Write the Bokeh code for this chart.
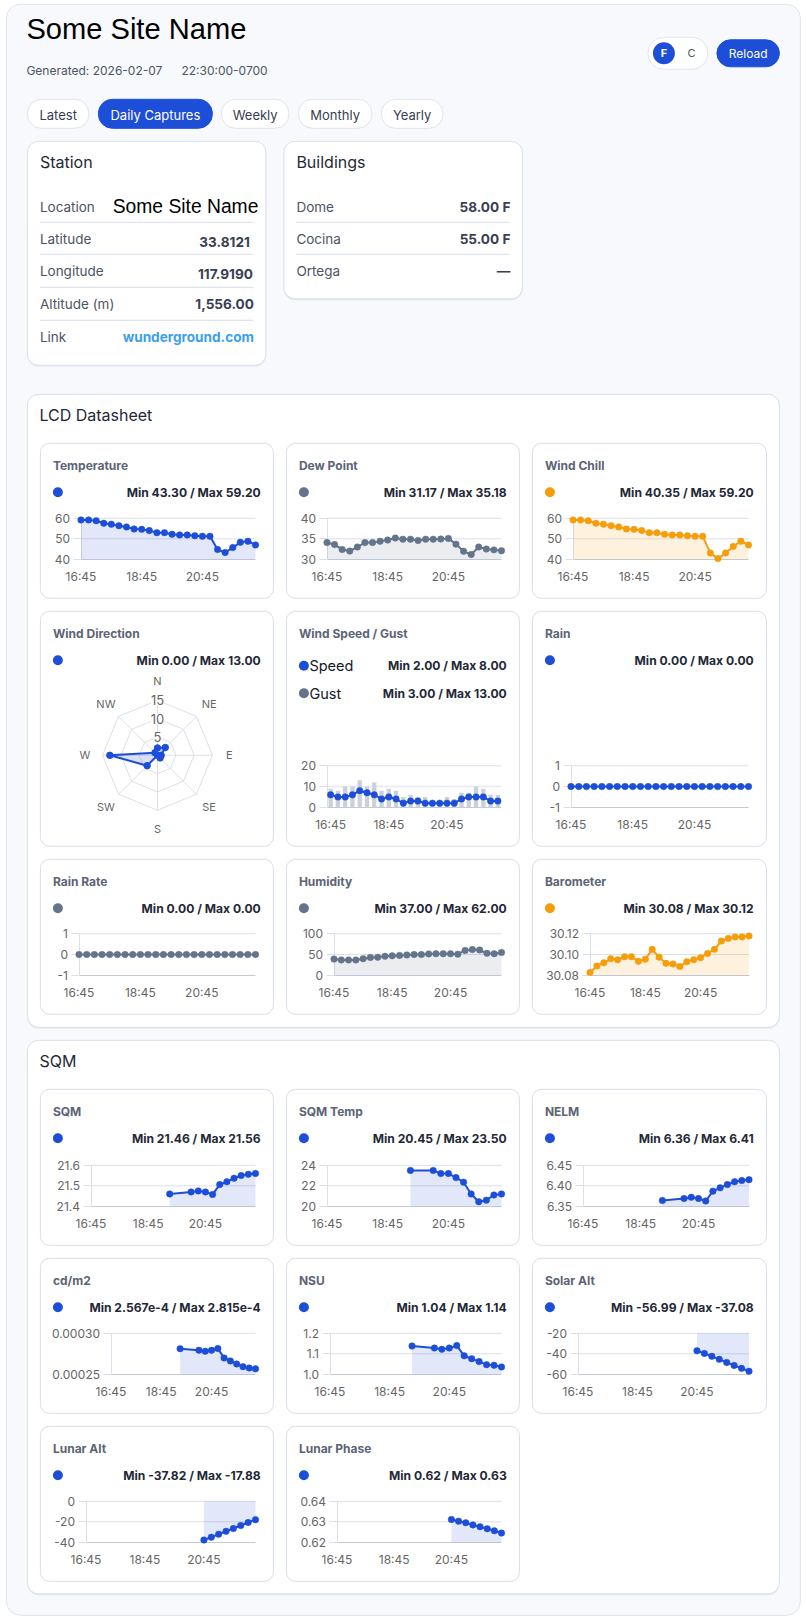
import math
from bokeh.core.properties import value
from bokeh.embed import file_html
from bokeh.resources import INLINE
from bokeh.plotting import figure
from bokeh.models import Column, LinearAxis, FixedTicker, Range1d

# ---------- data ----------
site_name = "Some Site Name"
generated = "Generated: 2026-02-07    22:30:00-0700"
tab_labels = ["Latest", "Daily Captures", "Weekly", "Monthly", "Yearly"]
station_labels = ["Location", "Latitude", "Longitude", "Altitude (m)", "Link"]
station_values = ["Some Site Name", "33.8121", "117.9190", "1,556.00", "wunderground.com"]
building_labels = ["Dome", "Cocina", "Ortega"]
building_values = ["58.00 F", "55.00 F", "—"]

times = ["16:45", "17:00", "17:15", "17:30", "17:45", "18:00", "18:15", "18:30",
         "18:45", "19:00", "19:15", "19:30", "19:45", "20:00", "20:15", "20:30",
         "20:45", "21:00", "21:15", "21:30", "21:45", "22:00", "22:15", "22:30"]
tick_index = [0, 8, 16]

temperature = [59.2, 59.2, 58.8, 57.6, 57.1, 56.4, 55.8, 54.8, 54.6, 54.0, 53.0, 53.0,
               52.2, 51.9, 51.9, 51.5, 51.2, 51.2, 44.8, 43.3, 45.7, 48.3, 48.8, 47.0]
dew_point = [34.07, 33.6, 32.4, 32.0, 33.0, 34.07, 34.07, 34.4, 34.7, 35.18, 34.9, 34.9,
             34.6, 34.9, 34.9, 34.95, 35.1, 33.7, 31.95, 31.17, 33.0, 32.5, 32.3, 32.1]
wind_chill = [59.2, 59.2, 58.8, 57.6, 57.1, 56.4, 55.8, 54.8, 54.6, 54.0, 53.0, 53.0,
              52.2, 51.9, 51.9, 51.5, 51.2, 51.2, 43.1, 40.35, 43.1, 46.3, 48.8, 47.0]
wind_speed = [6, 5, 5, 6, 8, 7, 6, 4, 5, 4, 2, 3, 3, 2, 2, 2, 2, 2, 4, 5, 5, 5, 3, 3]
wind_gust = [9, 8, 10, 10, 13, 10, 12, 8, 9, 8, 5, 6, 5, 5, 3, 3, 5, 4, 7, 7, 10, 9, 6, 6]
rain = [0] * len(times)
rain_rate = [0] * len(times)
humidity = [39, 37, 37, 37, 40, 43, 43.5, 46, 47, 48, 49, 50, 50, 51.5, 52, 52, 52, 51,
            60, 62, 61, 53, 52, 55]
barometer = [30.0826, 30.089, 30.092, 30.096, 30.095, 30.098, 30.098, 30.0935, 30.0955,
             30.105, 30.0975, 30.0915, 30.091, 30.0885, 30.093, 30.095, 30.097, 30.101,
             30.105, 30.113, 30.1155, 30.117, 30.117, 30.118]

compass = ["N", "NE", "E", "SE", "S", "SW", "W", "NW"]
wind_direction = [2, 3, 1, 1, 0, 4, 13, 1]
radar_ticks = [5, 10, 15]

sqm_index = [11, 14, 15, 16, 17, 18, 19, 20, 21, 22, 23]
sqm = [21.46, 21.47, 21.475, 21.47, 21.458, 21.506, 21.52, 21.537, 21.55, 21.556, 21.56]
sqm_temp = [23.5, 23.5, 23.2, 23.2, 22.8, 22.35, 21.2, 20.45, 20.6, 21.1, 21.2]
nelm = [6.364, 6.369, 6.372, 6.369, 6.363, 6.387, 6.395, 6.403, 6.41, 6.413, 6.415]
cdm2 = [2.812e-4, 2.793e-4, 2.78e-4, 2.793e-4, 2.815e-4, 2.70e-4, 2.663e-4, 2.626e-4,
        2.593e-4, 2.577e-4, 2.567e-4]
nsu = [1.138, 1.128, 1.122, 1.128, 1.14, 1.09, 1.076, 1.062, 1.047, 1.044, 1.036]
astro_index = [16, 17, 18, 19, 20, 21, 22, 23]
solar_alt = [-37.08, -39.6, -42.5, -45.4, -48.4, -51.3, -54.2, -56.99]
lunar_alt = [-37.82, -35.0, -32.1, -29.3, -26.5, -23.6, -20.7, -17.88]
lunar_phase = [0.6311, 0.6303, 0.6295, 0.6285, 0.6276, 0.6266, 0.6256, 0.6245]

all_index = list(range(len(times)))

# ---------- style ----------
BLUE, SLATE, AMBER = "#1d4ed8", "#64748b", "#f59e0b"
INK, LABEL, TICK = "#1f2937", "#4b5563", "#666666"
GRID, AXIS = "#dcdfe8", "#c4c9d6"
CHART_DY = -0.7

bg = figure(width=806, height=1620, x_range=Range1d(0.6, 806.6), y_range=Range1d(1620.7, 0.7),
            x_axis_type=None, y_axis_type=None, toolbar_location=None, output_backend="svg",
            min_border=0, outline_line_color=None, background_fill_color="white",
            border_fill_color="white",
            styles={"position": "absolute", "left": "0px", "top": "0px"})


def box(x0, y0, x1, y1, fill="white", line="#d9dee8", r=10, shadow=False):
    r = int(round(r))
    if shadow:
        bg.quad(left=[x0], right=[x1], top=[y0 + 1.5], bottom=[y1 + 1.5], fill_color="#e7eaf1",
                line_color=None, border_radius=r)
    bg.quad(left=[x0], right=[x1], top=[y0], bottom=[y1], fill_color=fill,
            line_color=line, line_width=1, border_radius=r)


def label(x, y, t, size=12, color=INK, align="left", bold=False, font="Inter"):
    bg.text(x=[x], y=[y], text=[t], text_font=value(font), text_font_size=f"{size}px",
            text_color=color, text_align=align, text_baseline="middle",
            text_font_style="bold" if bold else "normal")


def dot(x, y, color, size=10):
    bg.scatter(x=[x], y=[y], size=size, fill_color=color, line_color=None)


# page panels
box(6.5, 4.5, 800.5, 1615.5, fill="#f7f9fd", line="#dfe3ec", r=14)
label(26.5, 29.5, site_name, 29.1, "#000000", font="Liberation Sans")
label(26.5, 70.5, generated.split("    ")[0], 12, LABEL)
label(181.5, 70.5, generated.split("    ")[1], 12, LABEL)

box(648, 37.5, 708, 69.5, r=16, fill="white", line="#e2e5ee")
dot(664, 53.5, BLUE, 22)
label(664, 53.5, "F", 11, "white", "center", True)
label(691.5, 53.5, "C", 11, LABEL, "center")
box(717, 40, 779.5, 67, fill=BLUE, line=BLUE, r=13.5)
label(748.2, 53.5, "Reload", 12, "white", "center")

tab_x = [(27.5, 89), (98.5, 212.5), (221.5, 289), (298.5, 372), (381.5, 443)]
for i, (lab, (a, b)) in enumerate(zip(tab_labels, tab_x)):
    active = i == 1
    box(a, 99.5, b, 128.5, fill=BLUE if active else "white", line=BLUE if active else "#dfe3ec", r=14.5)
    label((a + b) / 2, 114.7, lab, 13, "white" if active else "#374151", "center")

# station / buildings
box(27.5, 141.5, 266, 365.5, r=11, shadow=True)
box(284, 141.5, 522.5, 299, r=11, shadow=True)
label(40, 162.5, "Station", 16, INK)
label(296.5, 162.5, "Buildings", 16, INK)
label_y = [206.7, 239.3, 271.3, 304, 337]
value_y = [206.7, 241.7, 273.7, 304, 337]
value_x = [258.5, 250, 253, 254, 254]
rule_y = [222.5, 254.5, 287.5, 320.5]
for y in rule_y:
    bg.segment(x0=[40], y0=[y], x1=[253.5], y1=[y], line_color="#d9dde6", line_width=1)
for i, (a, v) in enumerate(zip(station_labels, station_values)):
    label(40, label_y[i], a, 13.5, "#4b5563")
    if i == 0:
        label(value_x[i], value_y[i], v, 19.3, "#000000", "right", font="Liberation Sans")
    elif i == 4:
        label(value_x[i], value_y[i], v, 13.6, "#3b9fee", "right", True)
    else:
        label(value_x[i], value_y[i], v, 13.6, "#374151", "right", True)
for y in rule_y[:2]:
    bg.segment(x0=[296.5], y0=[y], x1=[510], y1=[y], line_color="#d9dde6", line_width=1)
for i, (a, v) in enumerate(zip(building_labels, building_values)):
    label(296.5, label_y[i], a, 13.5, "#4b5563")
    label(510.5, label_y[i], v, 13.6, "#374151", "right", True)

# section panels
box(27.5, 394.5, 779.5, 1027.5, r=11, shadow=True)
box(27.5, 1040.5, 779.5, 1594, r=11, shadow=True)
label(39.5, 415.5, "LCD Datasheet", 16, INK)
label(39.5, 1061, "SQM", 16, INK)

figs = [bg]
COLS = [(40.5, 273.5), (286.5, 519.5), (532.5, 766.5)]


def card(col, top, bottom, title, color, stat, stat_y=None):
    a, b = COLS[col]
    box(a, top, b, bottom, r=9)
    label(a + 12.5, top + 22.5, title, 12, "#5b6475", bold=True)
    y = top + 49 if stat_y is None else stat_y
    dot(a + 17.5, y, color)
    label(b - 12.7, y, stat, 12.1, INK, "right", True)


def chart(col, card_top, plot_left, plot_right, plot_top, plot_bottom, x_span, ymin, ymax,
          yticks, yticklabels, series, grid=GRID, fill=True, base=None, bars=None):
    """series: (index, values, colour)"""
    plot_top += CHART_DY
    plot_bottom += CHART_DY
    a, b = COLS[col]
    fx0, fx1 = int(a) + 1, int(b) - 1
    fy0, fy1 = int(plot_top) - 12, int(plot_bottom) + 32
    W, H = fx1 - fx0, fy1 - fy0
    ux = (plot_right - plot_left) / (x_span[1] - x_span[0])
    uy = (plot_bottom - plot_top) / (ymax - ymin)
    xr = Range1d(x_span[0] - (plot_left - fx0) / ux, x_span[0] - (plot_left - fx0) / ux + W / ux)
    yr = Range1d(ymin - (fy1 - plot_bottom) / uy, ymin - (fy1 - plot_bottom) / uy + H / uy)
    p = figure(width=W, height=H, x_range=xr, y_range=yr, x_axis_type=None, y_axis_type=None,
               toolbar_location=None, output_backend="svg", min_border=0, outline_line_color=None,
               background_fill_alpha=0, border_fill_alpha=0,
               styles={"position": "absolute", "left": f"{fx0}px", "top": f"{fy0}px"})
    top_ticks = [t for t in yticks if t != ymin]
    p.segment(x0=[x_span[0]] * len(top_ticks), x1=[x_span[1]] * len(top_ticks), y0=top_ticks, y1=top_ticks,
              line_color=grid, line_width=1.5 if bars else 1, level="underlay")
    yax = LinearAxis(fixed_location=x_span[0], ticker=FixedTicker(ticks=yticks),
                     major_label_overrides=dict(zip(yticks, yticklabels)), bounds=(ymin, ymax),
                     level="underlay")
    yax.axis_line_color = GRID
    yax.major_tick_line_color = GRID
    yax.major_tick_in = 0
    yax.major_tick_out = 8
    yax.minor_tick_line_color = None
    yax.major_label_standoff = 3
    yax.major_label_text_font = "Inter"
    yax.major_label_text_font_size = "12px"
    yax.major_label_text_color = TICK
    xax = LinearAxis(fixed_location=ymin, ticker=FixedTicker(ticks=tick_index),
                     major_label_overrides={i: times[i] for i in tick_index}, bounds=x_span,
                     level="underlay")
    xax.axis_line_color = AXIS
    xax.major_tick_line_color = None
    xax.minor_tick_line_color = None
    xax.major_tick_in = 0
    xax.major_tick_out = 0
    xax.major_label_standoff = 10
    xax.major_label_text_font = "Inter"
    xax.major_label_text_font_size = "12px"
    xax.major_label_text_color = TICK
    p.add_layout(yax, "left")
    p.add_layout(xax, "below")
    if bars is not None:
        p.vbar(x=all_index, top=bars, bottom=0, width=0.6, fill_color="#cbd1dc", line_color=None)
    for idx, vals, color in series:
        if fill:
            b0 = base if base is not None else (ymin if ymin > 0 else (ymax if ymax < 0 else 0))
            p.varea(x=idx, y1=vals, y2=[b0] * len(idx), fill_color=color, fill_alpha=0.13)
        p.line(x=idx, y=vals, line_color=color, line_width=2)
        p.scatter(x=idx, y=vals, size=6.5, fill_color=color, line_color=color, line_width=0.5)
    figs.append(p)
    return p


def radar(col, cx, cy, unit):
    a, b = COLS[col]
    fx0, fx1 = int(a) + 1, int(b) - 1
    fy0, fy1 = 672, 840
    W, H = fx1 - fx0, fy1 - fy0
    xr = Range1d((fx0 - cx) / unit, (fx1 - cx) / unit)
    yr = Range1d((cy - fy1) / unit, (cy - fy0) / unit)
    p = figure(width=W, height=H, x_range=xr, y_range=yr, x_axis_type=None, y_axis_type=None,
               toolbar_location=None, output_backend="svg", min_border=0, outline_line_color=None,
               background_fill_alpha=0, border_fill_alpha=0,
               styles={"position": "absolute", "left": f"{fx0}px", "top": f"{fy0}px"})
    n = len(compass)
    th = [2 * math.pi * i / n for i in range(n)]
    sx, sy = [math.sin(t) for t in th], [math.cos(t) for t in th]
    for r in radar_ticks:
        p.line(x=[r * s for s in sx] + [0], y=[r * c for c in sy] + [r], line_color=GRID, line_width=1)
    R = max(radar_ticks)
    p.segment(x0=[0] * n, y0=[0] * n, x1=[R * s for s in sx], y1=[R * c for c in sy], line_color=GRID, line_width=1)
    # closed polygon of readings
    vx = [v * s for v, s in zip(wind_direction, sx)]
    vy = [v * c for v, c in zip(wind_direction, sy)]
    p.patch(x=vx + vx[:1], y=vy + vy[:1], fill_color=BLUE, fill_alpha=0.17, line_color=BLUE, line_width=2)
    p.scatter(x=vx, y=vy, size=6.5, fill_color=BLUE, line_color=BLUE)
    p.text(x=[0] * 3, y=radar_ticks, text=[str(t) for t in radar_ticks], text_font=value("Inter"),
           text_font_size="13px", text_color=TICK, text_align="center", text_baseline="middle",
           background_fill_color="white")
    lab_r = [20.2, 19.9, 19.6, 19.9, 20.0, 19.9, 19.8, 19.9]
    p.text(x=[r * s for r, s in zip(lab_r, sx)], y=[r * c for r, c in zip(lab_r, sy)], text=compass,
           text_font=value("Inter"), text_font_size="11px", text_color=TICK, text_align="center", text_baseline="middle")
    figs.append(p)


# ---------- row 1 ----------
ROW = [(443.5, 598.5), (611.5, 846.5), (859.5, 1014.5), (1089.5, 1245.5), (1258.5, 1413.5), (1426.5, 1581.5)]
XS = (0, 23)
t0, b0 = ROW[0]
card(0, t0, b0, "Temperature", BLUE, "Min 43.30 / Max 59.20")
card(1, t0, b0, "Dew Point", SLATE, "Min 31.17 / Max 35.18")
card(2, t0, b0, "Wind Chill", AMBER, "Min 40.35 / Max 59.20")
chart(0, t0, 80.5, 255, 518.5, 559.5, XS, 40, 60, [40, 50, 60], ["40", "50", "60"], [(all_index, temperature, BLUE)])
chart(1, t0, 326.5, 501, 518.5, 559.5, XS, 30, 40, [30, 35, 40], ["30", "35", "40"], [(all_index, dew_point, SLATE)])
chart(2, t0, 572.5, 748, 518.5, 559.5, XS, 40, 60, [40, 50, 60], ["40", "50", "60"], [(all_index, wind_chill, AMBER)])

# ---------- row 2 ----------
t0, b0 = ROW[1]
card(0, t0, b0, "Wind Direction", BLUE, "Min 0.00 / Max 13.00")
radar(0, 157, 754.8, 55 / 15)

a, b = COLS[1]
box(a, t0, b, b0, r=9)
label(a + 12.5, t0 + 22.5, "Wind Speed / Gust", 12, "#5b6475", bold=True)
dot(a + 17.5, 666, BLUE)
label(309.5, 666, "Speed", 14.5, "#111827")
label(b - 12.7, 666, "Min 2.00 / Max 8.00", 12.1, INK, "right", True)
dot(a + 17.5, 693.5, SLATE)
label(309.5, 694, "Gust", 14.5, "#111827")
label(b - 12.7, 693.5, "Min 3.00 / Max 13.00", 12.1, INK, "right", True)
chart(1, t0, 326.5, 501, 766, 807.5, (-0.5, 23.5), 0, 20, [0, 10, 20], ["0", "10", "20"],
      [(all_index, wind_speed, BLUE)], grid="#e6e9f2", fill=False, bars=wind_gust)

card(2, t0, b0, "Rain", BLUE, "Min 0.00 / Max 0.00")
chart(2, t0, 570.5, 748, 766, 807.5, XS, -1, 1, [-1, 0, 1], ["-1", "0", "1"], [(all_index, rain, BLUE)])

# ---------- row 3 ----------
t0, b0 = ROW[2]
card(0, t0, b0, "Rain Rate", SLATE, "Min 0.00 / Max 0.00")
card(1, t0, b0, "Humidity", SLATE, "Min 37.00 / Max 62.00")
card(2, t0, b0, "Barometer", AMBER, "Min 30.08 / Max 30.12")
chart(0, t0, 78.5, 255, 934, 975.5, XS, -1, 1, [-1, 0, 1], ["-1", "0", "1"], [(all_index, rain_rate, SLATE)])
chart(1, t0, 333.5, 501, 934, 975.5, XS, 0, 100, [0, 50, 100], ["0", "50", "100"], [(all_index, humidity, SLATE)])
chart(2, t0, 589.5, 748.5, 934, 975.5, XS, 30.08, 30.12, [30.08, 30.10, 30.12], ["30.08", "30.10", "30.12"],
      [(all_index, barometer, AMBER)])

# ---------- SQM rows ----------
t0, b0 = ROW[3]
card(0, t0, b0, "SQM", BLUE, "Min 21.46 / Max 21.56")
card(1, t0, b0, "SQM Temp", BLUE, "Min 20.45 / Max 23.50")
card(2, t0, b0, "NELM", BLUE, "Min 6.36 / Max 6.41")
chart(0, t0, 90.5, 255, 1165.5, 1206.5, XS, 21.4, 21.6, [21.4, 21.5, 21.6], ["21.4", "21.5", "21.6"], [(sqm_index, sqm, BLUE)])
chart(1, t0, 326.5, 501, 1165.5, 1206.5, XS, 20, 24, [20, 22, 24], ["20", "22", "24"], [(sqm_index, sqm_temp, BLUE)])
chart(2, t0, 582.5, 748.5, 1165.5, 1206.5, XS, 6.35, 6.45, [6.35, 6.40, 6.45], ["6.35", "6.40", "6.45"], [(sqm_index, nelm, BLUE)])

t0, b0 = ROW[4]
card(0, t0, b0, "cd/m2", BLUE, "Min 2.567e-4 / Max 2.815e-4")
card(1, t0, b0, "NSU", BLUE, "Min 1.04 / Max 1.14")
card(2, t0, b0, "Solar Alt", BLUE, "Min -56.99 / Max -37.08")
chart(0, t0, 110.5, 255, 1333.5, 1374.5, XS, 0.00025, 0.0003, [0.00025, 0.0003], ["0.00025", "0.00030"], [(sqm_index, cdm2, BLUE)])
chart(1, t0, 329.5, 501, 1333.5, 1374.5, XS, 1.0, 1.2, [1.0, 1.1, 1.2], ["1.0", "1.1", "1.2"], [(sqm_index, nsu, BLUE)])
chart(2, t0, 577.5, 748.5, 1333.5, 1374.5, XS, -60, -20, [-60, -40, -20], ["-60", "-40", "-20"], [(astro_index, solar_alt, BLUE)])

t0, b0 = ROW[5]
card(0, t0, b0, "Lunar Alt", BLUE, "Min -37.82 / Max -17.88")
card(1, t0, b0, "Lunar Phase", BLUE, "Min 0.62 / Max 0.63")
chart(0, t0, 85.5, 255, 1501.5, 1542.5, XS, -40, 0, [-40, -20, 0], ["-40", "-20", "0"], [(astro_index, lunar_alt, BLUE)])
chart(1, t0, 336.5, 501, 1501.5, 1542.5, XS, 0.62, 0.64, [0.62, 0.63, 0.64], ["0.62", "0.63", "0.64"], [(astro_index, lunar_phase, BLUE)])

root = Column(children=figs, width=806, height=1620,
              styles={"position": "absolute", "left": "0px", "top": "0px"})
open("out.html", "w").write(file_html(root, INLINE))
